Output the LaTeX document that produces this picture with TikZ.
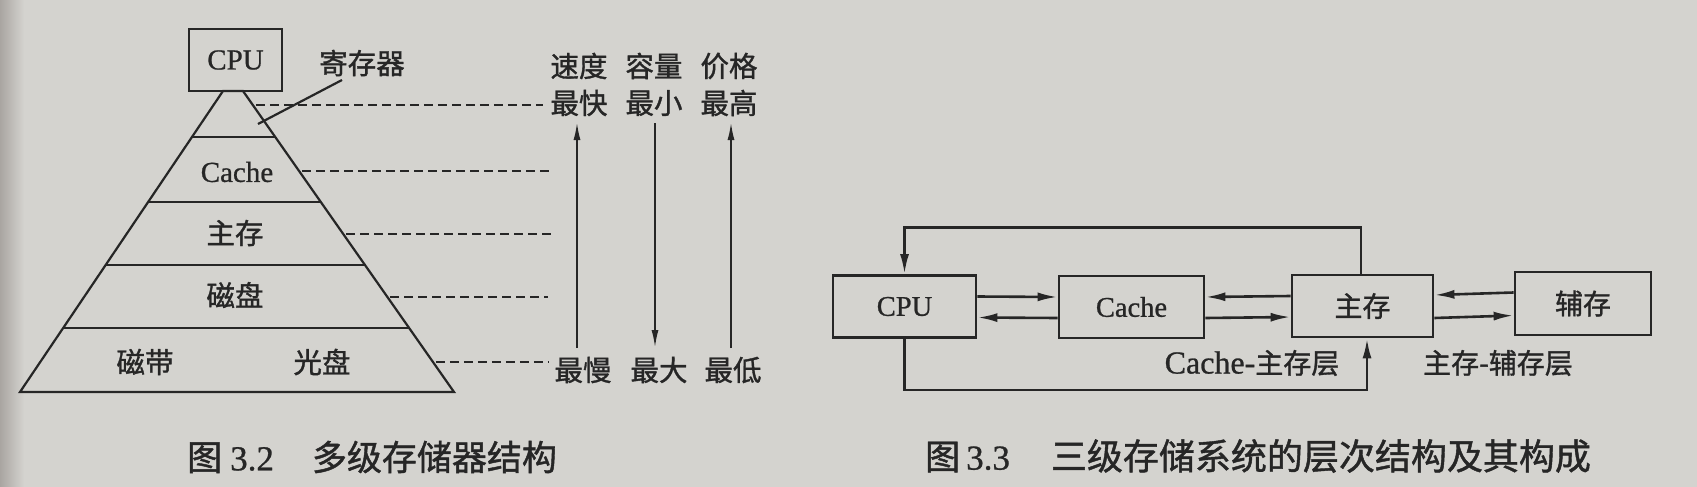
\documentclass[tikz,border=0pt]{standalone}
\usepackage{fontspec}
\setmainfont{Liberation Serif}[FakeBold=0.8]
\newfontfamily\cjk{Noto Sans CJK SC}[FakeBold=1.2]
\usetikzlibrary{arrows.meta,calc}
\definecolor{bg}{HTML}{D4D3CF}
\definecolor{ink}{HTML}{262626}
\definecolor{edgegray}{HTML}{A9A5A1}
\begin{document}
\begin{tikzpicture}[x=1pt,y=-1pt,
  line/.style={draw=ink,line width=2.2pt},
  dashline/.style={draw=ink,line width=2pt,dash pattern=on 9pt off 5pt},
  arrL/.style={draw=ink,line width=2pt,-{Latex[length=18pt,width=7pt]}},
  arrR/.style={draw=ink,line width=2.6pt,-{Latex[length=20pt,width=9pt]}},
  lat/.style={inner sep=0,text=ink,font=\fontsize{29}{31}\selectfont},
  han/.style={inner sep=0,text=ink,font=\cjk\fontsize{28.5}{31}\selectfont},
  hans/.style={inner sep=0,text=ink,font=\cjk\fontsize{28}{30}\selectfont},
  boxL/.style={draw=ink,line width=2.2pt,inner sep=0,minimum width=93pt,minimum height=62pt,text=ink,font=\fontsize{29}{31}\selectfont},
  boxR/.style={draw=ink,line width=2.8pt,inner sep=0,text=ink,font=\fontsize{28.5}{30}\selectfont},
  captext/.style={inner sep=0,anchor=west,text=ink,font=\fontsize{35}{38}\selectfont}
]
\useasboundingbox (0,0) rectangle (1697,487);
\fill[bg] (0,0) rectangle (1697,487);
\shade[left color=edgegray,right color=bg] (0,0) rectangle (24,487);

% ---------- left: pyramid ----------
\node[boxL] (cpuL) at (235.5,60) {CPU};
\coordinate (tl) at (223,91);
\coordinate (tr) at (243,91);
\coordinate (bl) at (20,392);
\coordinate (br) at (454,392);
\draw[line] (tl) -- (bl) -- (br) -- (tr) -- cycle;
\foreach \t in {0.1528,0.3688,0.578,0.7874}
  \draw[line] ($(tl)!\t!(bl)$) -- ($(tr)!\t!(br)$);

\node[han] (reg) at (362,63) {寄存器};
\coordinate (regA) at (342,80);
\coordinate (regB) at (258,124);
\draw[line] (regA) -- (regB);

\node[lat] (cacheL) at (237,172) {Cache};
\node[han] (mainL) at (235,233) {主存};
\node[han] (diskL) at (235,295) {磁盘};
\node[han] (tapeL) at (145,362) {磁带};
\node[han] (optL) at (322,362) {光盘};

% dashed leaders
\coordinate (d1) at ($(tr)!0.0465!(br)+(3,0)$);
\coordinate (d2) at ($(tr)!0.2658!(br)+(3,0)$);
\coordinate (d3) at ($(tr)!0.4750!(br)+(3,0)$);
\coordinate (d4) at ($(tr)!0.6844!(br)+(3,0)$);
\coordinate (d5) at ($(tr)!0.9003!(br)+(3,0)$);
\coordinate (e1) at (543,0);
\coordinate (e2) at (554,0);
\coordinate (e3) at (551,0);
\coordinate (e4) at (548,0);
\coordinate (e5) at (548,0);
\foreach \i in {1,...,5}
  \draw[dashline] (d\i) -- (d\i -| e\i);

% right column
\node[han] (spd) at (579,66) {速度};
\node[han] (vol) at (654,66) {容量};
\node[han] (prc) at (729,66) {价格};
\node[han] (fast) at (579,103) {最快};
\node[han] (small) at (654,103) {最小};
\node[han] (high) at (729,103) {最高};
\node[han] (slow) at (583,370) {最慢};
\node[han] (big) at (659,370) {最大};
\node[han] (low) at (733,370) {最低};
\coordinate (a1b) at (577,348);
\coordinate (a1t) at (577,122);
\coordinate (a2t) at (655,123);
\coordinate (a2b) at (655,348);
\coordinate (a3b) at (731,348);
\coordinate (a3t) at (731,122);
\draw[arrL] (a1b) -- (a1t);
\draw[arrL] (a2t) -- (a2b);
\draw[arrL] (a3b) -- (a3t);

\node[captext] (cap1) at (187,457) {{\cjk 图}\hspace{8pt}3.2\hspace{38pt}{\cjk 多级存储器结构}};

% ---------- right: three-level system ----------
\node[boxR,minimum width=143pt,minimum height=62pt] (cpu) at (904.5,306.5) {CPU};
\node[boxR,minimum width=145pt,minimum height=62pt] (cache) at (1131.5,307) {Cache};
\node[boxR,minimum width=141pt,minimum height=62pt,font=\cjk\fontsize{28}{30}\selectfont] (mm) at (1362.5,306) {主存};
\node[boxR,minimum width=136pt,minimum height=63pt,font=\cjk\fontsize{28}{30}\selectfont] (aux) at (1583,303.5) {辅存};

\draw[arrR] ([yshift=10pt]cpu.east) -- ([yshift=10pt]cache.west);
\draw[arrR] ([yshift=-11pt]cache.west) -- ([yshift=-11pt]cpu.east);
\draw[arrR] ([yshift=10pt]mm.west) -- ([yshift=10pt]cache.east);
\draw[arrR] ([yshift=-11pt]cache.east) -- ([yshift=-11pt]mm.west);
\draw[arrR] ([yshift=11pt]aux.west) -- ([yshift=11pt]mm.east);
\draw[arrR] ([yshift=-12pt]mm.east) -- ([yshift=-12pt]aux.west);

\draw[arrR] ([xshift=-1.5pt]mm.north) -- ++(0,-46) -| (cpu.north);
\draw[arrR] (cpu.south) -- ++(0,51) -| ([xshift=4.5pt]mm.south);

\node[inner sep=0,text=ink,font=\fontsize{32}{34}\selectfont] (l1) at (1252,363) {Cache-{\cjk\fontsize{28}{30}\selectfont 主存层}};
\node[hans] (l2) at (1498,363) {主存-辅存层};

\node[captext] (cap2) at (925,456) {{\cjk 图}\hspace{6pt}3.3\hspace{41pt}{\cjk\fontsize{36}{40}\selectfont 三级存储系统的层次结构及其构成}};
\end{tikzpicture}
\end{document}
